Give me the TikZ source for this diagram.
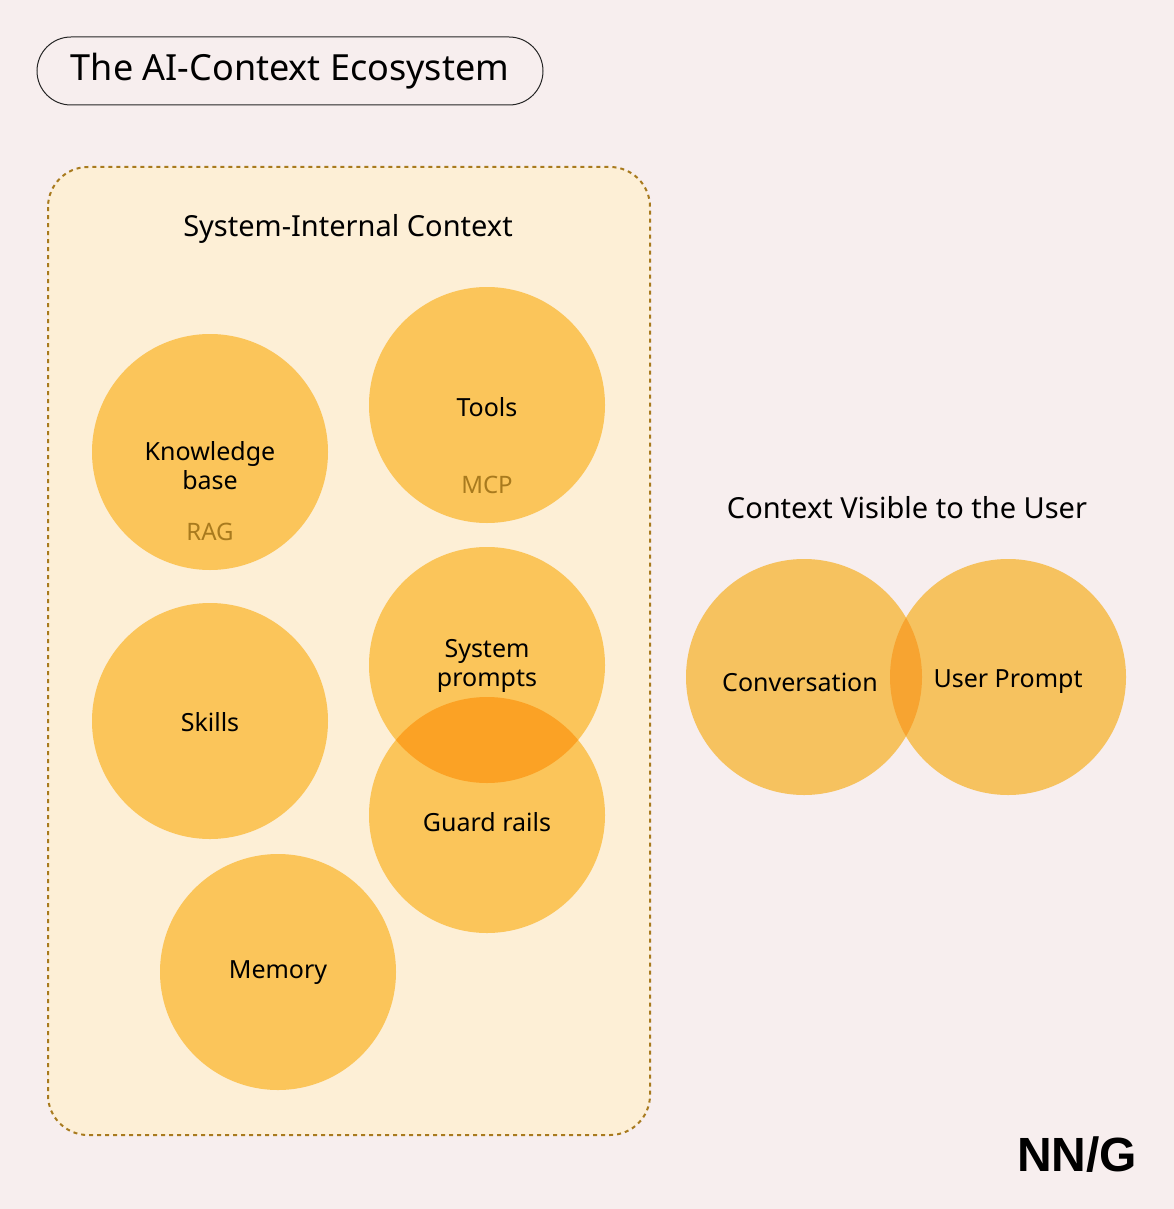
\documentclass[tikz,border=0pt]{standalone}
\usepackage{fontspec}
\setmainfont{Noto Sans}
\newfontfamily\logofont{Liberation Sans}
\begin{document}
\begin{tikzpicture}[x=1pt,y=-1pt,
  lbl/.style={font=\fontsize{25}{29}\selectfont,align=center,text=black},
  sub/.style={font=\fontsize{24}{26}\selectfont,text=brn},
  head/.style={font=\fontsize{29}{31}\selectfont,text=black}]
\definecolor{bg}{HTML}{F7EEEE}
\definecolor{cream}{HTML}{FDEFD6}
\definecolor{brn}{HTML}{A87A1E}
\definecolor{cfill}{HTML}{FBC55A}
\definecolor{ovl}{HTML}{FBA225}
\definecolor{rfill}{HTML}{F6C25F}
\definecolor{rovl}{HTML}{F7A431}
\fill[bg] (0,0) rectangle (1174,1209);
\useasboundingbox (0,0) rectangle (1174,1209);
\node[draw=black!85,line width=1pt,rounded corners=34pt,minimum width=506pt,minimum height=68pt,font=\fontsize{36}{38}\selectfont] (title) at (290,71) {The AI-Context Ecosystem};
\draw[brn,fill=cream,line width=2pt,dash pattern=on 4pt off 4pt,rounded corners=40pt] (48,167) rectangle (650,1135);
\node[head] (sic) at (348,229) {System-Internal Context};
\coordinate (kb) at (210,452);
\coordinate (tl) at (487,405);
\coordinate (sp) at (487,665);
\coordinate (gr) at (487,815);
\coordinate (sk) at (210,721);
\coordinate (mm) at (278,972);
\foreach \c in {kb,tl,sp,gr,sk,mm} \fill[cfill] (\c) circle (118);
\begin{scope}\clip (sp) circle (118); \fill[ovl] (gr) circle (118);\end{scope}
\node[lbl] (kbl) at (210,466) {Knowledge\\base};
\node[sub] (rag) at (210,532) {RAG};
\node[lbl] (tll) at (487,407) {Tools};
\node[sub] (mcp) at (487,485) {MCP};
\node[lbl] (spl) at (487,666) {System\\prompts};
\node[lbl] (grl) at (487,822) {Guard rails};
\node[lbl] (skl) at (210,722) {Skills};
\node[lbl] (mml) at (278,973) {Memory};
\node[head] (cvu) at (907,508) {Context Visible to the User};
\coordinate (cv) at (804,677);
\coordinate (up) at (1008,677);
\fill[rfill] (cv) circle (118);
\fill[rfill] (up) circle (118);
\begin{scope}\clip (cv) circle (118); \fill[rovl] (up) circle (118);\end{scope}
\node[lbl] (cvl) at (800,682) {Conversation};
\node[lbl] (upl) at (1008,682) {User Prompt};
\node[font=\logofont\fontsize{48}{50}\selectfont\bfseries] (nng) at (1077,1155) {NN/G};
\end{tikzpicture}
\end{document}
